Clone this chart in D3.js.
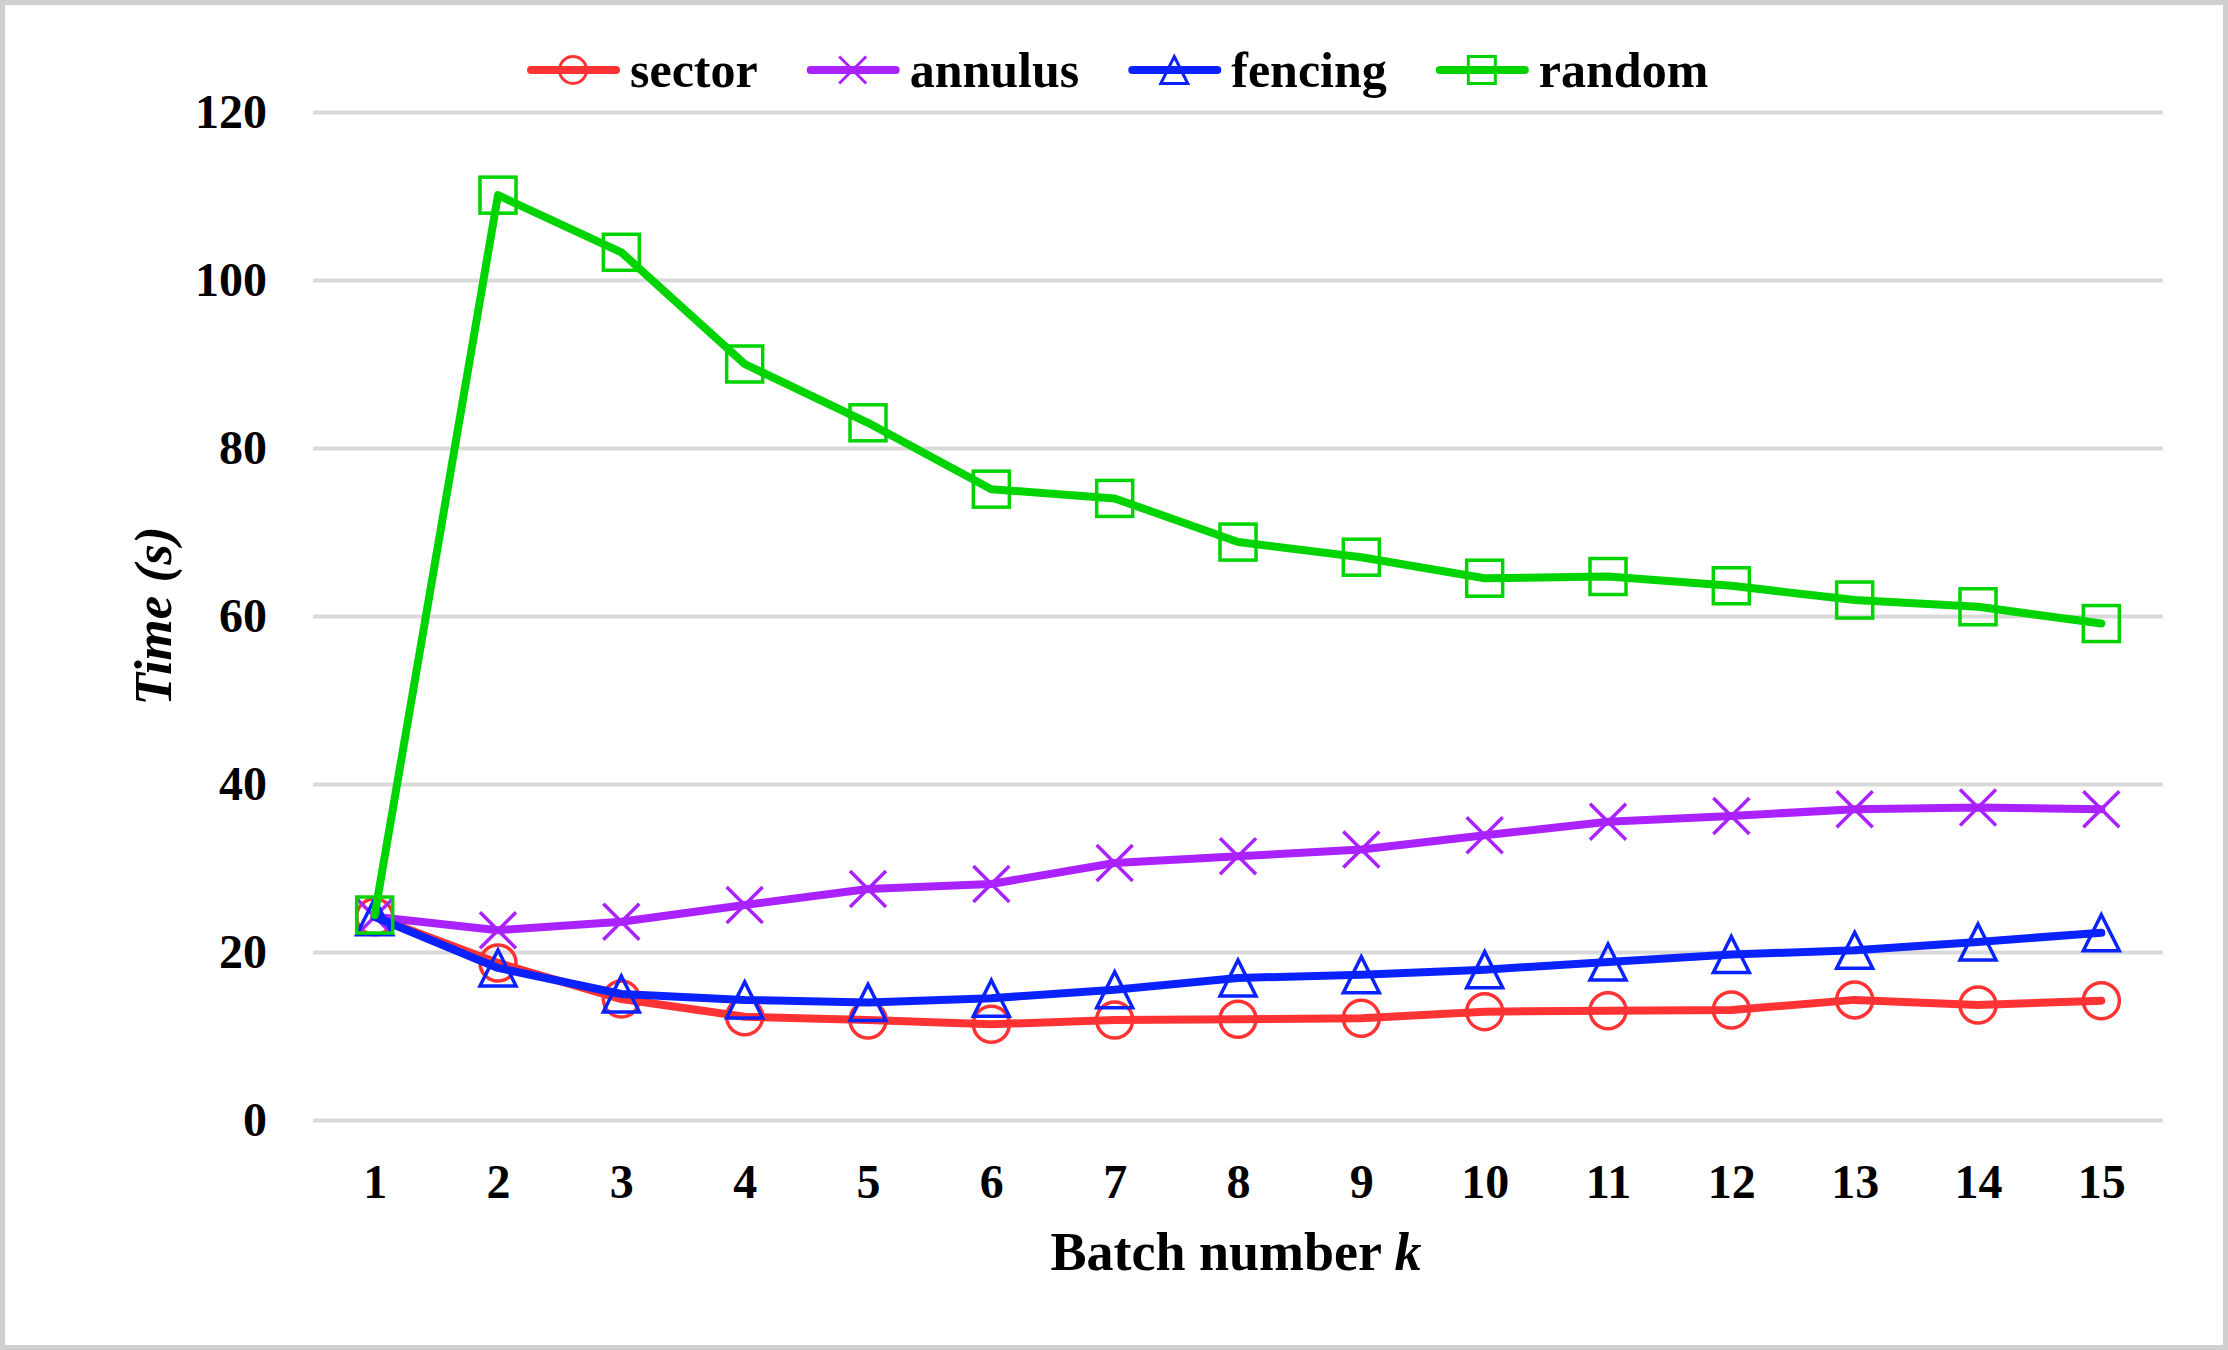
<!DOCTYPE html>
<html>
<head>
<meta charset="utf-8">
<script src="https://cdn.jsdelivr.net/npm/d3@7"></script>
<style>
  html, body { margin: 0; padding: 0; background: #fff; }
  text { font-family: "Liberation Serif", "Times New Roman", serif; font-weight: bold; fill: #000; }
</style>
</head>
<body>
<svg id="chart"></svg>
<script>
// data
const batches = [1, 2, 3, 4, 5, 6, 7, 8, 9, 10, 11, 12, 13, 14, 15];
const sector  = [24.2, 18.7, 14.4, 12.3, 11.9, 11.4, 11.9, 12.0, 12.1, 12.9, 13.0, 13.1, 14.3, 13.7, 14.2];
const annulus = [24.2, 22.6, 23.6, 25.6, 27.5, 28.1, 30.6, 31.4, 32.2, 33.9, 35.5, 36.2, 37.0, 37.2, 37.0];
const fencing = [24.2, 18.1, 15.0, 14.3, 14.0, 14.5, 15.5, 16.9, 17.3, 17.9, 18.8, 19.7, 20.2, 21.2, 22.3];
const random  = [24.4, 110.1, 103.3, 90.0, 83.0, 75.1, 74.0, 68.8, 67.0, 64.5, 64.7, 63.6, 61.9, 61.1, 59.1];
const yTicks = [0, 20, 40, 60, 80, 100, 120];

const series = [
  { name: "sector",  values: sector,  color: "#FF3333", marker: "circle" },
  { name: "annulus", values: annulus, color: "#AA22FF", marker: "x" },
  { name: "fencing", values: fencing, color: "#0A22FF", marker: "triangle" },
  { name: "random",  values: random,  color: "#00D400", marker: "square" }
];

const W = 2228, H = 1350;
const plotL = 313, plotR = 2163, plotT = 112, plotB = 1120;

const svg = d3.select("#chart").attr("width", W).attr("height", H);

// outer border
svg.append("rect")
    .attr("x", 2.5).attr("y", 2.5)
    .attr("width", W - 5).attr("height", H - 5)
    .attr("fill", "#fff").attr("stroke", "#D0CECE").attr("stroke-width", 5);

const x = d3.scalePoint().domain(batches).range([plotL, plotR]).padding(0.5);
const y = d3.scaleLinear().domain([0, 120]).range([plotB, plotT]);

// gridlines + y labels
const yAxis = d3.axisLeft(y).tickValues(yTicks).tickSize(-(plotR - plotL)).tickPadding(46);
const gy = svg.append("g").attr("transform", `translate(${plotL},0)`).call(yAxis);
gy.select(".domain").remove();
gy.selectAll(".tick line").attr("stroke", "#D9D9D9").attr("stroke-width", 4);
gy.selectAll(".tick text").style("font-size", "48px").attr("fill", "#000");

// x labels
const xAxis = d3.axisBottom(x).tickSize(0).tickPadding(44);
const gx = svg.append("g").attr("transform", `translate(0,${plotB})`).call(xAxis);
gx.select(".domain").remove();
gx.selectAll(".tick text").style("font-size", "48px").attr("fill", "#000");

// axis titles
const xt = svg.append("text")
    .attr("x", (plotL + plotR) / 2 - 2).attr("y", 1270)
    .attr("text-anchor", "middle").style("font-size", "54px");
xt.append("tspan").text("Batch number ");
xt.append("tspan").attr("font-style", "italic").text("k");

svg.append("text")
    .attr("transform", `translate(171,${(plotT + plotB) / 2}) rotate(-90)`)
    .attr("text-anchor", "middle").attr("font-style", "italic")
    .style("font-size", "53px")
    .text("Time (s)");

function drawMarker(g, type, cx, cy, s) {
  const h = s / 2;
  if (type === "circle") {
    g.append("circle").attr("cx", cx).attr("cy", cy).attr("r", h);
  } else if (type === "square") {
    g.append("rect").attr("x", cx - h).attr("y", cy - h).attr("width", s).attr("height", s);
  } else if (type === "triangle") {
    g.append("path").attr("d", `M${cx},${cy - h}L${cx + h},${cy + h}L${cx - h},${cy + h}Z`);
  } else {
    g.append("path").attr("d", `M${cx - h},${cy - h}L${cx + h},${cy + h}M${cx + h},${cy - h}L${cx - h},${cy + h}`);
  }
}

const line = d3.line().x((d, i) => x(batches[i])).y(d => y(d));

series.forEach(s => {
  const g = svg.append("g");
  g.append("path")
      .attr("d", line(s.values))
      .attr("fill", "none").attr("stroke", s.color)
      .attr("stroke-width", 8).attr("stroke-linejoin", "round").attr("stroke-linecap", "round");
  const mg = g.append("g").attr("fill", "none").attr("stroke", s.color).attr("stroke-width", 3.5);
  s.values.forEach((v, i) => drawMarker(mg, s.marker, x(batches[i]), y(v), 36));
});

// legend
let lx = 527;
const ly = 70;
series.forEach(s => {
  const g = svg.append("g");
  g.append("line")
      .attr("x1", lx + 4).attr("x2", lx + 89).attr("y1", ly).attr("y2", ly)
      .attr("stroke", s.color).attr("stroke-width", 8).attr("stroke-linecap", "round");
  const mg = g.append("g").attr("fill", "none").attr("stroke", s.color).attr("stroke-width", 3);
  drawMarker(mg, s.marker, lx + 46, ly, 27);
  const t = g.append("text")
      .attr("x", lx + 103).attr("y", ly).attr("dy", "0.33em")
      .style("font-size", "50px").text(s.name);
  lx += 103 + t.node().getComputedTextLength() + 49;
});
</script>
</body>
</html>
